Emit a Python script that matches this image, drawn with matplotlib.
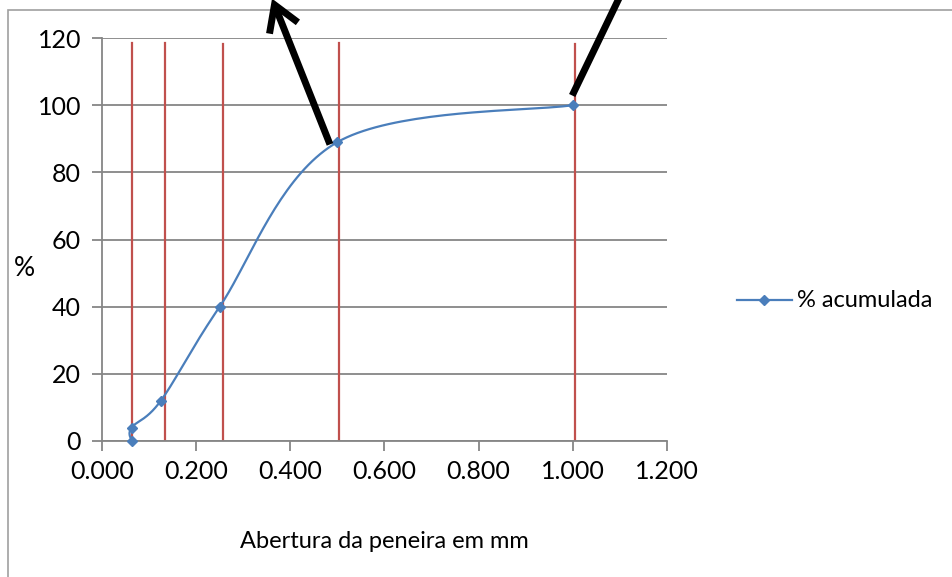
import matplotlib.pyplot as plt
import numpy as np
from matplotlib.patches import Rectangle, FancyArrowPatch

# dados da curva granulométrica
abertura = [0.063, 0.063, 0.125, 0.250, 0.500, 1.000]  # mm
acumulada = [0, 4, 12, 40, 89, 100]  # %
peneiras = [0.063, 0.133, 0.256, 0.503, 1.004]  # linhas vermelhas
topo_peneiras = [118.5, 118.5, 118.2, 118.5, 118.2]
x_ticks = [0.0, 0.2, 0.4, 0.6, 0.8, 1.0, 1.2]
y_ticks = [0, 20, 40, 60, 80, 100, 120]

plt.rcParams['font.family'] = ['Lato', 'DejaVu Sans']

W, H = 953, 577
fig = plt.figure(figsize=(W / 100, H / 100), dpi=100)

def fx(px):
    return px / W

def fy(py):
    return 1 - py / H

# moldura do gráfico
fig.patches.append(Rectangle((fx(8), fy(H + 5)), 1.2, fy(10) - fy(H + 5),
                             transform=fig.transFigure, fill=False,
                             edgecolor='#a0a0a0', linewidth=1.2))

ax = fig.add_axes([fx(102), fy(441), fx(667) - fx(102), fy(38) - fy(441)])

# curva suavizada (Catmull-Rom) passando pelos pontos
def suaviza(xs, ys, n=40):
    p = np.column_stack([xs, ys]).astype(float)
    p = np.vstack([p[0], p, p[-1]])
    out = []
    for i in range(1, len(p) - 2):
        p0, p1, p2, p3 = p[i - 1], p[i], p[i + 1], p[i + 2]
        t = np.linspace(0, 1, n)[:, None]
        c = 0.5 * ((2 * p1) + (-p0 + p2) * t +
                   (2 * p0 - 5 * p1 + 4 * p2 - p3) * t ** 2 +
                   (-p0 + 3 * p1 - 3 * p2 + p3) * t ** 3)
        out.append(c)
    c = np.vstack(out)
    return c[:, 0], c[:, 1]

sx, sy = suaviza(abertura, acumulada)
azul = '#4a7ebb'
ax.plot(sx, sy, color=azul, linewidth=1.6, zorder=3, clip_on=False)
ax.plot(abertura, acumulada, linestyle='none', marker='D', markersize=5.5,
        color=azul, zorder=4, clip_on=False)

for xv, top in zip(peneiras, topo_peneiras):
    ax.plot([xv, xv], [0, top], color='#c0504d', linewidth=1.6, zorder=2)

ax.set_xlim(0, 1.2)
ax.set_ylim(0, 120)
ax.set_xticks(x_ticks)
ax.set_xticklabels(['%.3f' % v for v in x_ticks])
ax.set_yticks(y_ticks)
ax.yaxis.grid(True, color='#868686', linewidth=1.3)
ax.set_axisbelow(True)
for s in ['top', 'right']:
    ax.spines[s].set_visible(False)
for s in ['left', 'bottom']:
    ax.spines[s].set_color('#868686')
    ax.spines[s].set_linewidth(1.3)
ax.tick_params(direction='out', length=7, width=1.3, color='#868686',
               labelsize=18, pad=8)
ax.tick_params(axis='x', pad=7)

ax.set_xlabel('Abertura da peneira em mm', fontsize=17, labelpad=34)
fig.text(fx(24), fy(268), '%', fontsize=19, ha='center', va='center')

# legenda
lx, ly = 737, 300
fig.add_artist(plt.Line2D([fx(lx), fx(lx + 55)], [fy(ly), fy(ly)],
                          color=azul, linewidth=1.6))
fig.add_artist(plt.Line2D([fx(lx + 27)], [fy(ly)], marker='D',
                          markersize=5.5, color=azul))
fig.text(fx(lx + 60), fy(ly), '% acumulada', fontsize=17, va='center')

# setas desenhadas sobre o gráfico
seta1 = FancyArrowPatch((fx(331), fy(147)), (fx(271), fy(-4)),
                        transform=fig.transFigure,
                        arrowstyle='->,head_length=0.9,head_width=0.55',
                        mutation_scale=20, color='black', linewidth=5,
                        joinstyle='miter', capstyle='butt')
seta2 = FancyArrowPatch((fx(571), fy(98)), (fx(623), fy(-10)),
                        transform=fig.transFigure, arrowstyle='-',
                        color='black', linewidth=5, capstyle='butt')
fig.patches.extend([seta1, seta2])

fig.savefig('out.png', dpi=100)
